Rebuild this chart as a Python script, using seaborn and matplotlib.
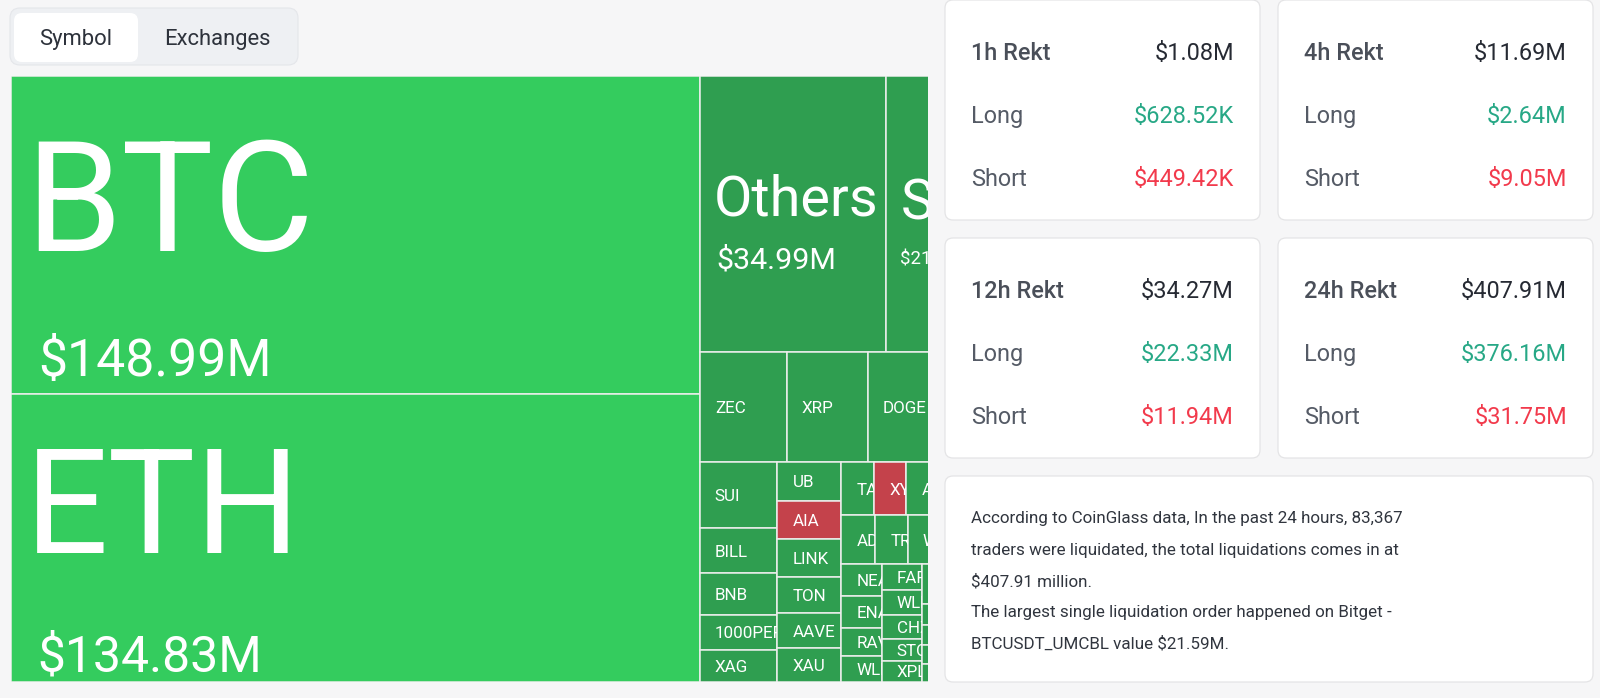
import matplotlib
matplotlib.use("Agg")
import matplotlib.pyplot as plt
from matplotlib.patches import Rectangle, FancyBboxPatch
from matplotlib.textpath import TextPath
from matplotlib.font_manager import FontProperties
import seaborn as sns

# 24h liquidations by symbol, million USD
symbols = ["BTC", "ETH", "Others", "SOL", "ZEC", "XRP", "DOGE", "HYPE",
           "SUI", "BILL", "BNB", "1000PEPE", "XAG",
           "UB", "AIA", "LINK", "TON", "AAVE", "XAU",
           "TAO", "XYZ100", "ASTER", "PUMP", "LTC",
           "ADA", "TRX", "WIF", "BCH", "ARB",
           "NEAR", "ENA", "RAVE", "WLD",
           "FARTCOIN", "WLFI", "CHZ", "STO", "XPL",
           "ONDO", "PENGU", "AVAX", "SEI", "OP", "APT", "INJ", "ETC",
           "FIL", "TIA", "JUP", "DOT", "UNI", "HBAR", "ATOM"]
liq_musd = [148.99, 134.83, 34.99, 21.52, 6.50, 6.06, 5.62, 4.33,
            3.50, 2.39, 2.17, 1.86, 1.70,
            1.69, 1.67, 1.65, 1.56, 1.54, 1.46,
            1.18, 1.17, 1.15, 1.14, 1.13,
            1.12, 1.08, 1.06, 1.03, 1.01,
            0.88, 0.87, 0.76, 0.72,
            0.70, 0.68, 0.65, 0.60, 0.58,
            0.57, 0.56, 0.52, 0.51, 0.48, 0.47, 0.44, 0.42,
            0.41, 0.38, 0.36, 0.35, 0.33, 0.30, 0.27]
short_heavy = ["AIA", "XYZ100", "PENGU"]

periods = ["1h", "4h", "12h", "24h"]
rekt_total = [1.08e6, 11.69e6, 34.27e6, 407.91e6]
rekt_long = [628.52e3, 2.64e6, 22.33e6, 376.16e6]
rekt_short = [449.42e3, 9.05e6, 11.94e6, 31.75e6]

summary_lines = [
    "According to CoinGlass data, In the past 24 hours, 83,367",
    "traders were liquidated, the total liquidations comes in at",
    "$407.91 million.",
    "The largest single liquidation order happened on Bitget -",
    "BTCUSDT_UMCBL value $21.59M.",
]
tabs = ["Symbol", "Exchanges"]

sns.set_theme(style="white")
plt.rcParams["font.family"] = ["Roboto", "DejaVu Sans"]

W, H = 1600, 698
PX = 0.72  # px -> pt at dpi 100
CAP = 0.711
BRIGHT, GREEN, RED = "#34cc5e", "#2f9e50", "#c4424b"


def fmt_usd(v):
    return f"${v / 1e6:.2f}M" if v >= 1e6 else f"${v / 1e3:.2f}K"


def ink_width(s):
    p = TextPath((0, 0), s, size=100, prop=FontProperties(family="Roboto"))
    return p.get_extents().width / 100


def fit_prefix(s, px, avail):
    # keep characters that start inside the cell, the last one gets clipped
    n = len(s)
    while n > 1 and ink_width(s[:n - 1]) * px >= avail:
        n -= 1
    return s[:n]


def squarify(values, w, h, ratio=(1 + 5 ** 0.5) / 2):
    # echarts-like squarified treemap
    k = w * h / sum(values)
    areas = [v * k for v in values]
    rect = [0.0, 0.0, w, h]
    out = []

    def worst(row, side):
        s = sum(row)
        f = side * side * ratio
        return max(f * max(row) / s ** 2, s ** 2 / (f * min(row)))

    def place(row, flush):
        rx, ry, rw, rh = rect
        s = sum(row)
        if rw <= rh:
            t = rh if flush else s / rw
            cx = rx
            for a in row:
                out.append((cx, ry, a / t, t))
                cx += a / t
            rect[1] += t
            rect[3] -= t
        else:
            t = rw if flush else s / rh
            cy = ry
            for a in row:
                out.append((rx, cy, t, a / t))
                cy += a / t
            rect[0] += t
            rect[2] -= t

    row, best, i = [], float("inf"), 0
    while i < len(areas):
        row.append(areas[i])
        score = worst(row, min(rect[2], rect[3]))
        if score <= best:
            best = score
            i += 1
        else:
            row.pop()
            place(row, False)
            row, best = [], float("inf")
    if row:
        place(row, True)
    return out


fig = plt.figure(figsize=(W / 100, H / 100), dpi=100, facecolor="#f6f6f7")

# treemap (right part is hidden behind the stats panel)
TREE_W, TREE_H, VIEW_W = 990, 606, 917
ax = fig.add_axes([11 / W, 16 / H, VIEW_W / W, TREE_H / H])
ax.set_xlim(0, VIEW_W)
ax.set_ylim(TREE_H, 0)
ax.axis("off")

total = sum(liq_musd)
cells = squarify(liq_musd, TREE_W, TREE_H)
for (x, y, w, h), sym, v in zip(cells, symbols, liq_musd):
    if sym in short_heavy:
        color = RED
    elif v / total > 0.2:
        color = BRIGHT
    else:
        color = GREEN
    ax.add_patch(Rectangle((x, y), w, h, facecolor=color, edgecolor="#eceeec", lw=1.1))
    if x >= VIEW_W:
        continue
    right = min(x + w, VIEW_W)
    clip = Rectangle((x, y), right - x, h, transform=ax.transData)
    if v >= 20:
        val_txt = f"${v:.2f}M"
        side = (w * h) ** 0.5
        name_px = min(0.33 * side, 0.55 * h, 0.85 * w / ink_width(sym))
        val_px = min(0.085 * side + 12, 0.62 * w / ink_width(val_txt))
        gap = 0.57 * name_px
        group = CAP * name_px + gap + CAP * val_px
        top = y + h / 2 + 0.15 * name_px - group / 2
        nb = top + CAP * name_px
        vb = nb + gap + CAP * val_px
        vx = x + 14 + 0.5 * max(0, val_px - 25)
        t1 = ax.text(x + 14, nb, fit_prefix(sym, name_px, right - x - 14),
                     fontsize=name_px * PX, color="white", va="baseline", clip_on=True)
        t2 = ax.text(vx, vb, fit_prefix(val_txt, val_px, right - vx),
                     fontsize=val_px * PX, color="white", va="baseline", clip_on=True)
        for t in (t1, t2):
            t.set_clip_path(clip)
    else:
        t = ax.text(x + 15, y + h / 2 + CAP * 17 / 2, fit_prefix(sym, 17, right - x - 15),
                    fontsize=17 * PX, color="white", va="baseline", clip_on=True)
        t.set_clip_path(clip)

# page overlay: tabs and stat cards
page = fig.add_axes([0, 0, 1, 1])
page.set_xlim(0, W)
page.set_ylim(H, 0)
page.axis("off")

page.add_patch(FancyBboxPatch((10, 8), 288, 57, boxstyle="round,pad=0,rounding_size=10",
                              facecolor="#eef0f3", edgecolor="#e4e6ea", lw=0.8))
page.add_patch(FancyBboxPatch((14, 13), 124, 49, boxstyle="round,pad=0,rounding_size=8",
                              facecolor="white", edgecolor="none"))
for cx, label in zip([76, 217], tabs):
    page.text(cx, 45, label, fontsize=22 * PX, color="#2d323b", ha="center", va="baseline")

card_x = [945, 1278]
card_y = [0, 238]
CW, CH = 315, 220
for i, per in enumerate(periods):
    x0, y0 = card_x[i % 2], card_y[i // 2]
    page.add_patch(FancyBboxPatch((x0, y0), CW, CH, boxstyle="round,pad=0,rounding_size=8",
                                  facecolor="white", edgecolor="#e4e4e6", lw=0.9))
    rows = [(f"{per} Rekt", fmt_usd(rekt_total[i]), "#262a33"),
            ("Long", fmt_usd(rekt_long[i]), "#27a886"),
            ("Short", fmt_usd(rekt_short[i]), "#f23a4c")]
    for j, (lab, val, vcol) in enumerate(rows):
        yb = y0 + 60 + 62.8 * j
        page.text(x0 + 26, yb, lab, fontsize=23.5 * PX, va="baseline",
                  color="#4a4f59" if j == 0 else "#555b66",
                  fontweight="medium" if j == 0 else "normal")
        page.text(x0 + CW - 26, yb, val, fontsize=23.5 * PX, va="baseline", ha="right", color=vcol)

page.add_patch(FancyBboxPatch((945, 476), 648, 206, boxstyle="round,pad=0,rounding_size=8",
                              facecolor="white", edgecolor="#e4e4e6", lw=0.9))
for k, line in enumerate(summary_lines):
    page.text(971, 523 + 31.5 * k, line, fontsize=17 * PX, color="#30353e", va="baseline")

fig.savefig("out.png", dpi=100)
